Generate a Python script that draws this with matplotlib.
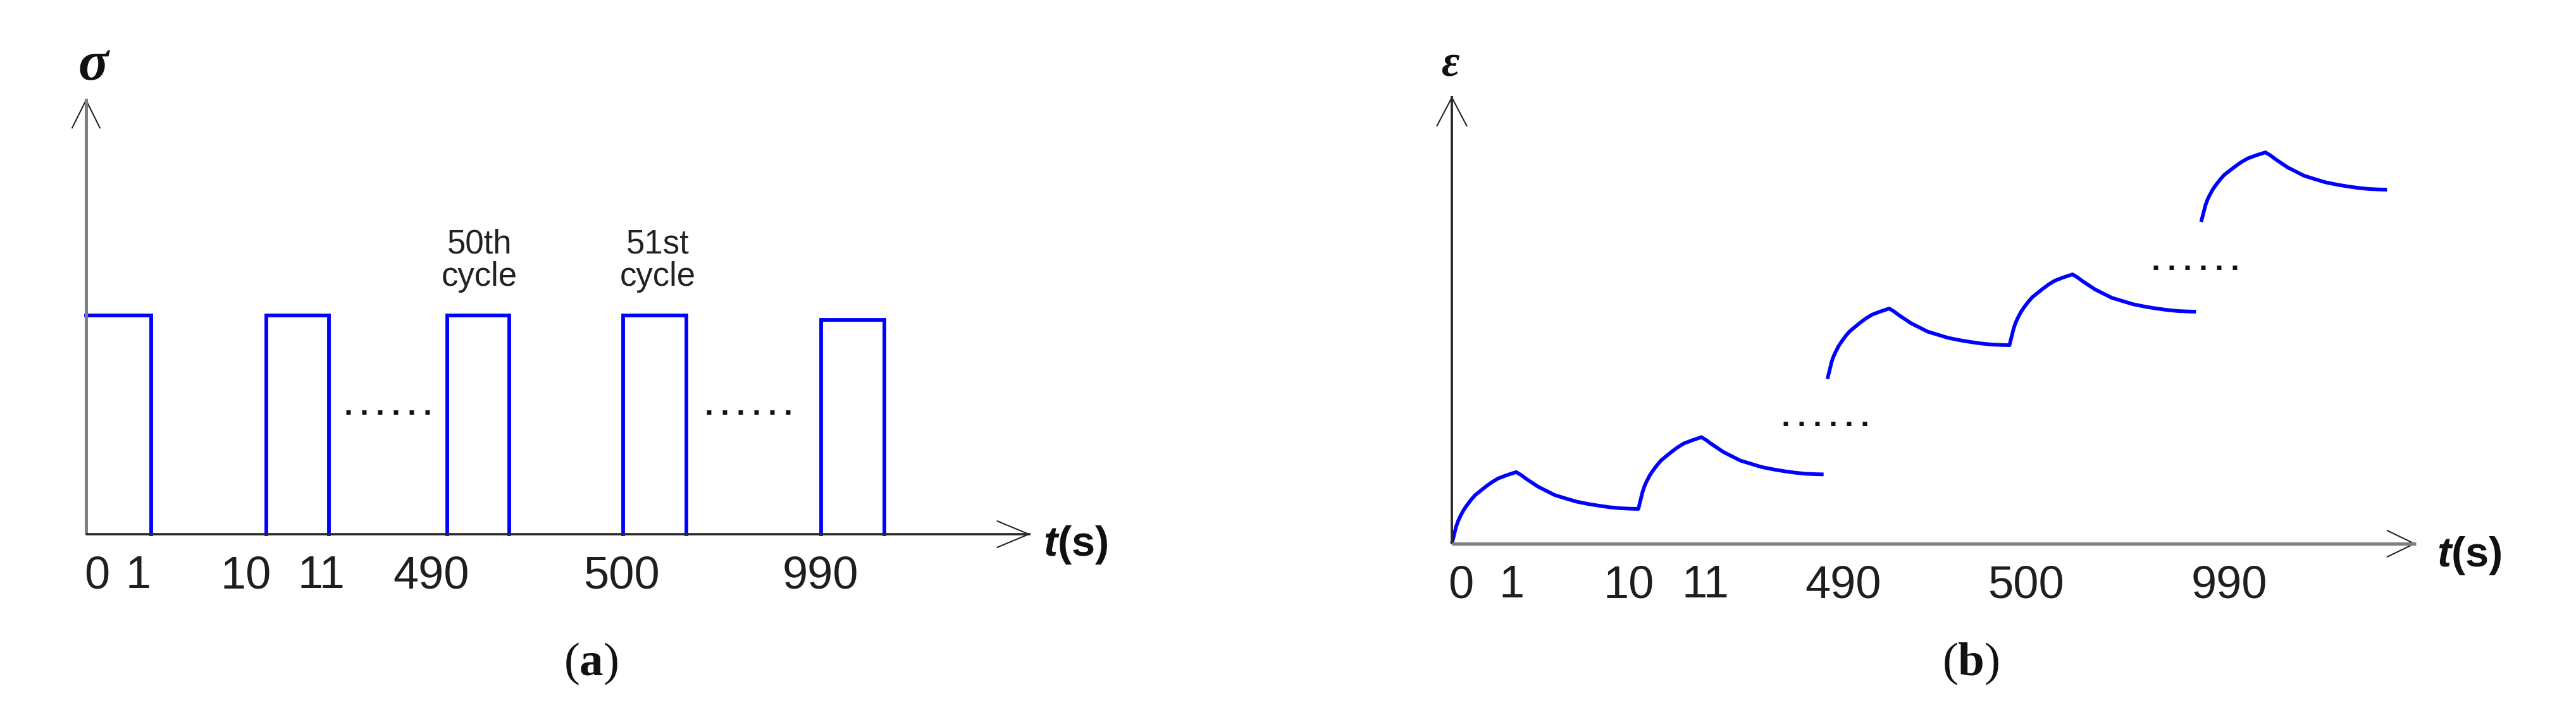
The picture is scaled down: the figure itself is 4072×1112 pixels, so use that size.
import matplotlib
matplotlib.use("Agg")
import matplotlib.pyplot as plt

plt.rcParams['mathtext.fontset'] = 'custom'
plt.rcParams['mathtext.rm'] = 'Liberation Sans'
plt.rcParams['mathtext.it'] = 'Liberation Sans:italic:bold'
plt.rcParams['mathtext.bf'] = 'Liberation Serif:bold'

# ---------------- data: panel (a) stress pulses (schematic time units) -----
pulse_start = [0.0, 2.82, 5.65, 8.40, 11.50]
pulse_end = [1.02, 3.80, 6.62, 9.39, 12.49]
pulse_level = [1.0, 1.0, 1.0, 1.0, 0.98]
a_tick_pos = [0.17, 0.82, 2.50, 3.68, 5.40, 8.38, 11.49]
tick_labels = ["0", "1", "10", "11", "490", "500", "990"]
a_cycle_labels = ["50th\ncycle", "51st\ncycle"]
a_cycle_x = [6.16, 8.95]
a_dots = [(4.07, 5.38), (9.71, 11.02)]

# ---------------- data: panel (b) strain response ---------------------------
time_early = [0, 0.033, 0.066, 0.098, 0.131, 0.180, 0.229, 0.295, 0.361, 0.442,
              0.524, 0.623, 0.721, 0.852, 1.0,
              1.082, 1.146, 1.245, 1.344, 1.475, 1.606, 1.770, 1.935, 2.131,
              2.294, 2.457, 2.623, 2.786, 2.90,
              2.932, 2.965, 2.996, 3.028, 3.076, 3.124, 3.189, 3.254, 3.333,
              3.414, 3.511, 3.607, 3.735, 3.88,
              3.962, 4.026, 4.125, 4.224, 4.355, 4.486, 4.650, 4.815, 5.011,
              5.174, 5.337, 5.503, 5.666, 5.78]
strain_early = [0, 0.133, 0.267, 0.360, 0.433, 0.527, 0.600, 0.690, 0.767, 0.833,
                0.900, 0.973, 1.033, 1.083, 1.133,
                1.083, 1.033, 0.966, 0.900, 0.833, 0.766, 0.716, 0.666, 0.626,
                0.600, 0.576, 0.560, 0.553, 0.550,
                0.683, 0.818, 0.911, 0.984, 1.078, 1.152, 1.241, 1.318, 1.384,
                1.451, 1.525, 1.585, 1.635, 1.685,
                1.634, 1.584, 1.517, 1.449, 1.382, 1.315, 1.264, 1.213, 1.173,
                1.146, 1.123, 1.106, 1.099, 1.096]
time_mid = [5.84, 5.872, 5.903, 5.934, 5.966, 6.013, 6.060, 6.123, 6.187, 6.264,
            6.343, 6.438, 6.532, 6.658, 6.80,
            6.880, 6.944, 7.041, 7.138, 7.268, 7.397, 7.557, 7.720, 7.913,
            8.073, 8.234, 8.397, 8.558, 8.67,
            8.702, 8.735, 8.766, 8.798, 8.846, 8.894, 8.959, 9.024, 9.103,
            9.184, 9.281, 9.377, 9.505, 9.65,
            9.733, 9.798, 9.898, 9.998, 10.130, 10.262, 10.428, 10.595, 10.792,
            10.958, 11.123, 11.290, 11.455, 11.57]
strain_mid = [2.607, 2.737, 2.870, 2.961, 3.032, 3.125, 3.197, 3.285, 3.360, 3.425,
              3.491, 3.563, 3.622, 3.671, 3.72,
              3.670, 3.620, 3.554, 3.488, 3.421, 3.355, 3.305, 3.255, 3.216,
              3.189, 3.166, 3.150, 3.143, 3.14,
              3.271, 3.404, 3.496, 3.568, 3.661, 3.734, 3.822, 3.898, 3.963,
              4.029, 4.102, 4.161, 4.211, 4.26,
              4.209, 4.159, 4.091, 4.024, 3.956, 3.889, 3.838, 3.787, 3.747,
              3.720, 3.697, 3.680, 3.673, 3.67]
time_late = [11.65, 11.683, 11.716, 11.748, 11.781, 11.830, 11.879, 11.945, 12.011,
             12.092, 12.174, 12.273, 12.371, 12.502, 12.65,
             12.731, 12.796, 12.894, 12.992, 13.123, 13.253, 13.415, 13.580,
             13.775, 13.937, 14.100, 14.264, 14.427, 14.54]
strain_late = [5.09, 5.219, 5.350, 5.440, 5.510, 5.602, 5.673, 5.760, 5.835,
               5.899, 5.963, 6.035, 6.093, 6.142, 6.19,
               6.139, 6.089, 6.021, 5.954, 5.886, 5.819, 5.768, 5.717,
               5.677, 5.650, 5.627, 5.610, 5.603, 5.60]
b_tick_pos = [0.14, 0.93, 2.75, 3.94, 6.08, 8.93, 12.09]
b_dots = [((5.15, 6.45), 1.90), ((10.91, 12.21), 4.37)]

W, H = 4072, 1112
fig = plt.figure(figsize=(W / 100, H / 100), dpi=100)

BLUE = '#0000FF'
GRAY = '#7f7f7f'
DARK = '#2a2a2a'
LW = 4.2
DOT_LW = 5.0
dotstyle = (0, (1, 2.6))


def px_axes(x0, y0, x1, y1):
    return fig.add_axes([x0 / W, 1 - y0 / H, (x1 - x0) / W, (y0 - y1) / H])


def arrow(ax, start, end, hl, hw, shaft_color, shaft_lw):
    ax.annotate('', xy=end, xytext=start, annotation_clip=False,
                arrowprops=dict(arrowstyle=f'->,head_length={hl},head_width={hw}',
                                mutation_scale=1, lw=1.5, color='#222222',
                                shrinkA=0, shrinkB=0))
    ax.plot([start[0], end[0]], [start[1], end[1]], color=shaft_color,
            lw=shaft_lw, solid_capstyle='butt', clip_on=False, zorder=4)


def style_axes(ax, xmax, ymax, ticks):
    ax.set_xlim(0, xmax)
    ax.set_ylim(0, ymax)
    for s in ax.spines.values():
        s.set_visible(False)
    ax.set_yticks([])
    ax.set_xticks(ticks, tick_labels)
    ax.tick_params(axis='x', length=0, pad=24, labelsize=52, labelcolor='#1e1e1e')
    for lab in ax.get_xticklabels():
        lab.set_fontfamily('Liberation Sans')
    ax.patch.set_visible(False)


# ---------------- panel (a) ----------------
axA = px_axes(136, 845, 1629, 156)
A_XMAX, A_YMAX = 14.78, 1.99
style_axes(axA, A_XMAX, A_YMAX, a_tick_pos)
for i, (s, e, lv) in enumerate(zip(pulse_start, pulse_end, pulse_level)):
    if i == 0:
        xs, ys = [s, e, e], [lv, lv, 0]
    else:
        xs, ys = [s, s, e, e], [0, lv, lv, 0]
    axA.plot(xs, ys, color=BLUE, lw=LW, clip_on=False, zorder=3,
             solid_joinstyle='miter')
for x0, x1 in a_dots:
    axA.plot([x0, x1], [0.558, 0.558], color='#111111', lw=DOT_LW,
             linestyle=dotstyle, dash_capstyle='butt', clip_on=False)
for lab, cx in zip(a_cycle_labels, a_cycle_x):
    axA.text(cx, 1.25, lab, ha='center', va='center', fontsize=38,
             family='Liberation Sans', color='#222222', linespacing=1.05)
arrow(axA, (0, 0), (0, A_YMAX), 31.7, 15.8, GRAY, 3.6)
arrow(axA, (0, 0), (A_XMAX, 0), 36.0, 15.0, DARK, 2.6)
axA.text(14.98, -0.05, r'$t$(s)', ha='left', va='center', fontsize=48,
         family='Liberation Sans', weight='bold', color='#111111')
axA.text(0.11, 2.14, 'σ', ha='center', va='center', fontsize=64,
         family='Liberation Serif', style='italic', weight='bold', color='#111111')

# ---------------- panel (b) ----------------
axB = px_axes(2295, 860, 3819, 152)
B_XMAX, B_YMAX = 14.99, 7.08
style_axes(axB, B_XMAX, B_YMAX, b_tick_pos)
for tx, sy in [(time_early, strain_early), (time_mid, strain_mid),
               (time_late, strain_late)]:
    axB.plot(tx, sy, color=BLUE, lw=LW, clip_on=False, zorder=3,
             solid_joinstyle='round', solid_capstyle='butt')
for (x0, x1), yv in b_dots:
    axB.plot([x0, x1], [yv, yv], color='#111111', lw=DOT_LW,
             linestyle=dotstyle, dash_capstyle='butt', clip_on=False)
arrow(axB, (0, 0), (0, B_YMAX), 32.4, 17.0, DARK, 2.8)
arrow(axB, (0, 0), (B_XMAX, 0), 31.0, 15.0, GRAY, 3.8)
axB.text(15.31, -0.19, r'$t$(s)', ha='left', va='center', fontsize=48,
         family='Liberation Sans', weight='bold', color='#111111')
axB.text(-0.03, 7.57, 'ε', ha='center', va='center', fontsize=50,
         family='Liberation Serif', style='italic', weight='bold', color='#111111')

# ---------------- panel captions ----------------
fig.text(934 / W, 1 - 1050 / H, r'($\mathbf{a}$)', ha='center', va='center',
         fontsize=54, family='Liberation Serif', color='#111111')
fig.text(3115 / W, 1 - 1050 / H, r'($\mathbf{b}$)', ha='center', va='center',
         fontsize=54, family='Liberation Serif', color='#111111')

fig.savefig('out.png', dpi=100, facecolor='white')
